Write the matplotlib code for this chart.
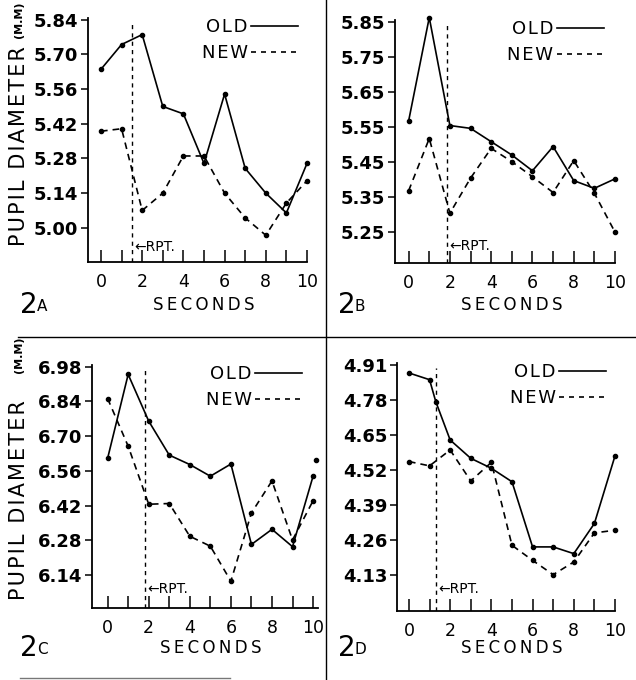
import matplotlib.pyplot as plt
from matplotlib.lines import Line2D
from matplotlib.transforms import blended_transform_factory

W, H = 636, 680
plt.rcParams['font.family'] = ['DejaVu Sans']

# seconds after onset
seconds = list(range(11))

a_old = [5.64, 5.74, 5.78, 5.49, 5.46, 5.26, 5.54, 5.24, 5.14, 5.06, 5.26]
a_new = [5.39, 5.40, 5.07, 5.14, 5.29, 5.29, 5.14, 5.04, 4.97, 5.10, 5.19]
a_ticks = [5.00, 5.14, 5.28, 5.42, 5.56, 5.70, 5.84]

b_old = [5.567, 5.862, 5.554, 5.546, 5.508, 5.470, 5.425, 5.494, 5.397, 5.375, 5.402]
b_new = [5.368, 5.517, 5.304, 5.404, 5.489, 5.451, 5.408, 5.363, 5.454, 5.361, 5.25]
b_ticks = [5.25, 5.35, 5.45, 5.55, 5.65, 5.75, 5.85]

c_old = [6.611, 6.949, 6.761, 6.624, 6.586, 6.539, 6.588, 6.264, 6.325, 6.255, 6.539]
c_new = [6.852, 6.660, 6.426, 6.429, 6.297, 6.257, 6.116, 6.391, 6.520, 6.282, 6.440]
c_ticks = [6.14, 6.28, 6.42, 6.56, 6.70, 6.84, 6.98]
c_stray_x = [10.15]
c_stray_y = [6.604]

d_old_x = [0, 1, 1.3, 2, 3, 4, 5, 6, 7, 8, 9, 10]
d_old = [4.879, 4.854, 4.773, 4.630, 4.562, 4.525, 4.475, 4.233, 4.233, 4.208, 4.320, 4.571]
d_new = [4.550, 4.534, 4.593, 4.478, 4.547, 4.239, 4.183, 4.130, 4.177, 4.285, 4.295]
d_ticks = [4.13, 4.26, 4.39, 4.52, 4.65, 4.78, 4.91]

rpt_times = [1.5, 1.84, 1.8, 1.3]
tags = ['A', 'B', 'C', 'D']

DASH = (0, (4, 3))
HS = '\u200a'


def box(left, top, right, bottom):
    return [left / W, 1 - bottom / H, (right - left) / W, (bottom - top) / H]


def spaced(s):
    return HS.join(s)


fig = plt.figure(figsize=(W / 100, H / 100), dpi=100)

panels = [
    dict(rect=box(88, 18, 307, 262), xlim=(-0.63, 10.0), ylim=(4.862, 5.847),
         yt=a_ticks, old=(seconds, a_old), new=(seconds, a_new), leg=0.96, rpty=0.06),
    dict(rect=box(395, 20, 615, 263), xlim=(-0.66, 10.0), ylim=(5.162, 5.855),
         yt=b_ticks, old=(seconds, b_old), new=(seconds, b_new), leg=0.95, rpty=0.07),
    dict(rect=box(92, 365, 318, 608), xlim=(-0.76, 10.24), ylim=(6.008, 6.987),
         yt=c_ticks, old=(seconds, c_old), new=(seconds, c_new), leg=0.93, rpty=0.08),
    dict(rect=box(397, 363, 615, 611), xlim=(-0.58, 10.0), ylim=(3.995, 4.916),
         yt=d_ticks, old=(d_old_x, d_old), new=(seconds, d_new), leg=0.96, rpty=0.09),
]

axes = []
for p, rpt in zip(panels, rpt_times):
    ax = fig.add_axes(p['rect'])
    axes.append(ax)
    ax.plot(*p['old'], color='black', lw=1.2, marker='o', ms=3, clip_on=False)
    ax.plot(*p['new'], color='black', lw=1.2, ls=DASH, marker='o', ms=3, clip_on=False)
    ax.axvline(rpt, ymax=0.98, color='black', lw=1.0, ls=(0, (3, 3)))
    tr = blended_transform_factory(ax.transData, ax.transAxes)
    ax.text(rpt + 0.12, p['rpty'], '\u2190RPT.', transform=tr, fontsize=10,
            ha='left', va='center')

    ax.set_xlim(*p['xlim'])
    ax.set_ylim(*p['ylim'])
    ax.set_xticks(seconds)
    ax.set_xticklabels([str(s) if s % 2 == 0 else '' for s in seconds])
    ax.set_yticks(p['yt'])
    ax.set_yticklabels(['%.2f' % v for v in p['yt']])
    ax.tick_params(axis='x', direction='in', length=9, width=1.1, pad=8, labelsize=12.5)
    ax.tick_params(axis='y', direction='out', length=5, width=1.1, pad=2, labelsize=13)
    for lab in ax.get_yticklabels():
        lab.set_fontweight('bold')
    for side in ('top', 'right'):
        ax.spines[side].set_visible(False)
    for side in ('left', 'bottom'):
        ax.spines[side].set_linewidth(1.3)

    handles = [Line2D([], [], color='black', lw=1.2),
               Line2D([], [], color='black', lw=1.2, ls=(0, (3, 3)))]
    ax.legend(handles, [spaced('OLD'), spaced('NEW')], markerfirst=False, frameon=False,
              loc='upper right', bbox_to_anchor=(p['leg'], 1.0), borderaxespad=0,
              borderpad=0, handlelength=2.6, handletextpad=0.2, labelspacing=0.45,
              fontsize=13)

# panel tags and axis titles
for ax, tag, (tx, ty) in zip(axes, tags, [(20, 305), (338, 305), (20, 648), (338, 648)]):
    fig.text(tx / W, 1 - ty / H, '2', fontsize=20, va='center', ha='left')
    fig.text((tx + 17) / W, 1 - (ty + 2) / H, tag, fontsize=11, va='center', ha='left')
    cx = ax.transData.transform((5, 0))[0] / W
    fig.text(cx, 1 - ty / H, '\u2009'.join('SECONDS'),
             fontsize=12, ha='center', va='center')

# stray dot at the right edge of 2C
axes[2].plot(c_stray_x, c_stray_y, 'o', color='black', ms=3, clip_on=False)

for cy, my in [(146, 20), (500, 355)]:
    fig.text(19 / W, 1 - cy / H, spaced('PUPIL DIAMETER'), rotation=90, fontsize=15,
             ha='center', va='center')
    fig.text(19 / W, 1 - my / H, '(M.M)', rotation=90, fontsize=8, fontweight='bold',
             ha='center', va='center')

# frame rules between panels
fig.add_artist(Line2D([18 / W, 1], [1 - 337 / H] * 2, color='black', lw=1.0))
fig.add_artist(Line2D([326 / W] * 2, [0, 1], color='black', lw=1.0))
fig.add_artist(Line2D([20 / W, 230 / W], [1 - 678 / H] * 2, color='#777777', lw=1.0))

fig.savefig('out.png', dpi=100)
